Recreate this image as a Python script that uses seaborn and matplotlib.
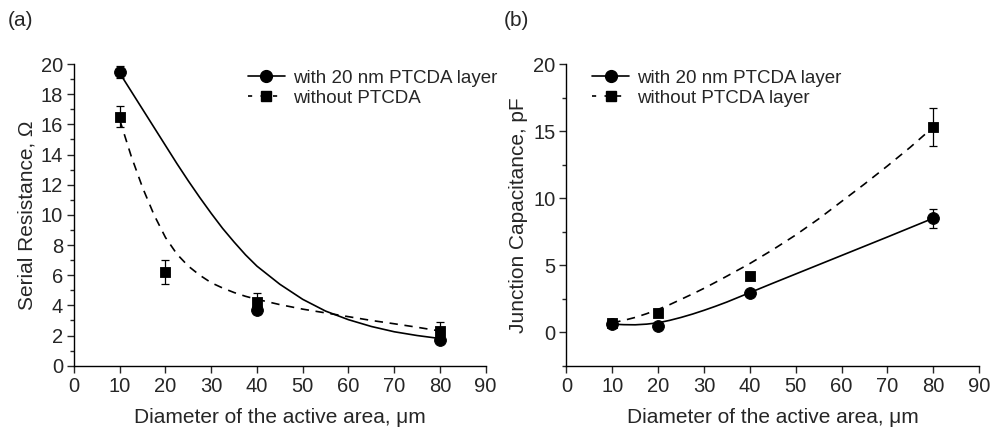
import matplotlib
matplotlib.use("Agg")
import matplotlib.pyplot as plt
import numpy as np
import pandas as pd
import seaborn as sns
from matplotlib.lines import Line2D
from matplotlib.ticker import MultipleLocator

# measured points
diam_with_a = [10, 40, 80]
res_with = [19.5, 3.7, 1.7]
res_with_err = [0.4, 0.3, 0.2]

diam_without_a = [10, 20, 40, 80]
res_without = [16.5, 6.2, 4.2, 2.3]
res_without_err = [0.7, 0.8, 0.6, 0.6]

diam_b = [10, 20, 40, 80]
cap_with = [0.6, 0.45, 2.9, 8.5]
cap_with_err = [0.2, 0.15, 0.2, 0.7]
cap_without = [0.65, 1.4, 4.2, 15.3]
cap_without_err = [0.2, 0.2, 0.3, 1.4]

# fitted curves
fit_x_a = [10, 12.5, 15, 17.5, 20, 22.5, 25, 27.5, 30, 32.5, 35, 37.5, 40,
           45, 50, 55, 60, 65, 70, 75, 80]
fit_res_with = [19.4, 18.2, 17.0, 15.8, 14.6, 13.4, 12.25, 11.15, 10.1, 9.1, 8.2, 7.35, 6.6,
                5.4, 4.4, 3.62, 3.05, 2.6, 2.25, 2.0, 1.8]
fit_res_without = [16.3, 13.9, 11.8, 10.0, 8.5, 7.4, 6.6, 6.0, 5.5, 5.15, 4.85, 4.6, 4.4,
                   4.05, 3.75, 3.5, 3.25, 3.0, 2.78, 2.55, 2.3]

fit_x_b = [10, 12.5, 15, 17.5, 20, 22.5, 25, 27.5, 30, 32.5, 35, 37.5, 40,
           45, 50, 55, 60, 65, 70, 75, 80]
fit_cap_with = [0.6, 0.56, 0.55, 0.6, 0.7, 0.88, 1.1, 1.35, 1.63, 1.93, 2.25, 2.6, 2.95,
                3.65, 4.34, 5.03, 5.72, 6.41, 7.1, 7.8, 8.5]
fit_cap_without = [0.7, 0.88, 1.1, 1.38, 1.7, 2.05, 2.45, 2.85, 3.27, 3.72, 4.18, 4.65, 5.12,
                   6.15, 7.25, 8.45, 9.75, 11.05, 12.4, 13.8, 15.3]

sns.set_style("ticks")
plt.rcParams['font.family'] = ['Liberation Sans', 'DejaVu Sans']
plt.rcParams['font.size'] = 14

fig = plt.figure(figsize=(9.92, 4.29), dpi=100)
ax1 = fig.add_axes([0.0746, 0.1476, 0.415, 0.703])
ax2 = fig.add_axes([0.571, 0.1476, 0.416, 0.703])


def draw_panel(ax, fx, f1, f2, x1, y1, e1, x2, y2, e2):
    sns.lineplot(x=fx, y=f1, ax=ax, color='black', lw=1.2, linestyle='-')
    sns.lineplot(x=fx, y=f2, ax=ax, color='black', lw=1.2, linestyle=(0, (5, 4)))
    ax.errorbar(x1, y1, yerr=e1, fmt='none', ecolor='black', elinewidth=0.9, capsize=3, capthick=0.9)
    ax.errorbar(x2, y2, yerr=e2, fmt='none', ecolor='black', elinewidth=0.9, capsize=3, capthick=0.9)
    sns.scatterplot(x=x2, y=y2, ax=ax, marker='s', s=58, color='black', edgecolor='black', zorder=5)
    sns.scatterplot(x=x1, y=y1, ax=ax, marker='o', s=72, color='black', edgecolor='black', zorder=6)
    ax.set_xlim(0, 90)
    ax.xaxis.set_major_locator(MultipleLocator(10))
    sns.despine(ax=ax)
    ax.tick_params(which='major', direction='out', length=5, width=1, labelsize=14.5, pad=3)
    ax.tick_params(which='minor', direction='out', length=3, width=1)
    for s in ['left', 'bottom']:
        ax.spines[s].set_linewidth(1)
        ax.spines[s].set_color('black')
    ax.set_xlabel('Diameter of the active area, \u03bcm', fontsize=15, labelpad=9)


draw_panel(ax1, fit_x_a, fit_res_with, fit_res_without,
           diam_with_a, res_with, res_with_err,
           diam_without_a, res_without, res_without_err)
ax1.set_ylim(0, 20)
ax1.yaxis.set_major_locator(MultipleLocator(2))
ax1.yaxis.set_minor_locator(MultipleLocator(1))
ax1.set_ylabel('Serial Resistance, \u03a9', fontsize=15, labelpad=3)

draw_panel(ax2, fit_x_b, fit_cap_with, fit_cap_without,
           diam_b, cap_with, cap_with_err,
           diam_b, cap_without, cap_without_err)
ax2.set_ylim(-2.5, 20)
ax2.yaxis.set_major_locator(MultipleLocator(5))
ax2.yaxis.set_minor_locator(MultipleLocator(2.5))
ax2.set_yticks([0, 5, 10, 15, 20])
ax2.set_ylabel('Junction Capacitance, pF', fontsize=15, labelpad=4)

h_with = Line2D([], [], color='black', lw=1.2, ls='-', marker='o', markersize=8.5)
h_without = Line2D([], [], color='black', lw=1.2, ls=(0, (2.5, 5)), marker='s', markersize=7.5)

ax1.legend([h_with, h_without], ['with 20 nm PTCDA layer', 'without PTCDA'],
           loc='upper left', bbox_to_anchor=(0.39, 1.025), frameon=False, fontsize=13.5,
           handlelength=2.0, handletextpad=0.4, labelspacing=0.15, borderpad=0.2)
ax2.legend([h_with, h_without], ['with 20 nm PTCDA layer', 'without PTCDA layer'],
           loc='upper left', bbox_to_anchor=(0.03, 1.025), frameon=False, fontsize=13.5,
           handlelength=2.0, handletextpad=0.4, labelspacing=0.15, borderpad=0.2)

fig.text(0.008, 0.952, '(a)', fontsize=15, va='center', ha='left')
fig.text(0.508, 0.952, '(b)', fontsize=15, va='center', ha='left')

fig.savefig('out.png', dpi=100)
